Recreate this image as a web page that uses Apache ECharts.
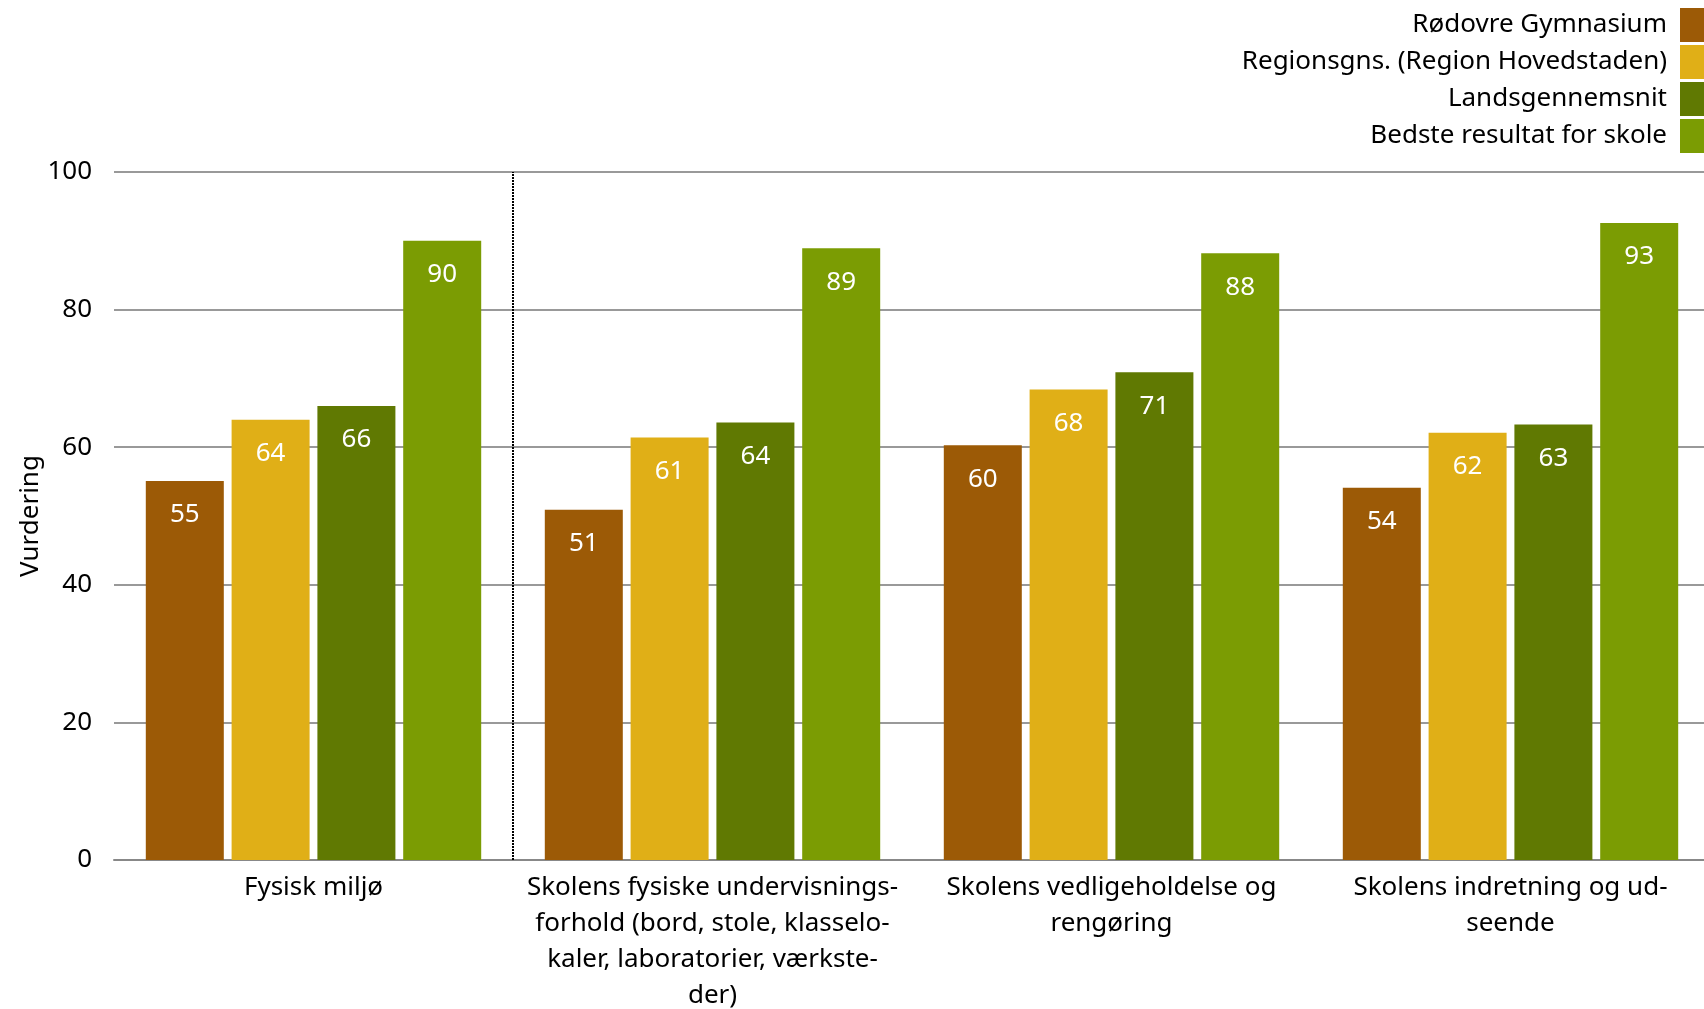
<!DOCTYPE html>
<html>
<head>
<meta charset="utf-8">
<script src="https://cdn.jsdelivr.net/npm/echarts@6/dist/echarts.min.js"></script>
<style>html,body{margin:0;padding:0;background:#fff}#c{width:1704px;height:1009px}</style>
</head>
<body>
<div id="c"></div>
<script>
const categories = [
  "Fysisk miljø",
  "Skolens fysiske undervisnings-\nforhold (bord, stole, klasselo-\nkaler, laboratorier, værkste-\nder)",
  "Skolens vedligeholdelse og\nrengøring",
  "Skolens indretning og ud-\nseende"
];
const seriesNames = ["Rødovre Gymnasium", "Regionsgns. (Region Hovedstaden)", "Landsgennemsnit", "Bedste resultat for skole"];
const rodovre = [55.1, 50.9, 60.3, 54.1];
const region = [64.0, 61.4, 68.4, 62.1];
const lands = [66.0, 63.6, 70.9, 63.3];
const bedste = [90.0, 88.9, 88.2, 92.6];
const yTicks = [0, 20, 40, 60, 80, 100];
const dividerAfter = [1];
const colors = ["#9C5A06", "#E0AF17", "#607902", "#7B9C03"];

const FONT = "'Noto Sans', 'Open Sans', sans-serif";
const allData = [rodovre, region, lands, bedste];
const chart = echarts.init(document.getElementById('c'), null, {renderer: 'canvas'});
const barSeries = allData.map((d, i) => ({
  name: seriesNames[i], type: 'bar', data: d,
  barWidth: 78, barGap: '10%',
  itemStyle: {color: colors[i]},
  label: {show: true, position: 'insideTop', distance: 21, color: '#fff', fontSize: 26, fontFamily: FONT,
    formatter: p => Math.round(p.value)}
}));
barSeries.push({
  type: 'line', xAxisIndex: 1, data: [], silent: true,
  markLine: {symbol: 'none', silent: true, label: {show: false},
    lineStyle: {color: '#000', width: 2, type: [2, 1]},
    data: dividerAfter.map(v => ({xAxis: v}))}
});
chart.setOption({
  animation: false,
  textStyle: {fontFamily: FONT},
  grid: {left: 114, right: -6, top: 172, bottom: 149, containLabel: false, outerBoundsMode: 'none'},
  legend: {
    data: seriesNames,
    orient: 'vertical', right: 0, top: 8, align: 'right', padding: 0,
    itemWidth: 24, itemHeight: 34, itemGap: 3, icon: 'rect',
    textStyle: {fontSize: 26, color: '#000', fontFamily: FONT, padding: [0, 8, 0, 0]}
  },
  xAxis: [{
    type: 'category', data: categories,
    axisLine: {show: true, lineStyle: {color: '#888', width: 2}},
    axisTick: {show: false},
    axisLabel: {fontSize: 26, color: '#000', margin: 10, lineHeight: 36, interval: 0, fontFamily: FONT},
    splitLine: {show: false}
  }, {
    type: 'value', min: 0, max: categories.length, show: false
  }],
  yAxis: {
    type: 'value', min: yTicks[0], max: yTicks[yTicks.length - 1], interval: 20,
    name: 'Vurdering', nameLocation: 'middle', nameGap: 70, nameMoveOverlap: false,
    nameTextStyle: {fontSize: 26, color: '#000', fontFamily: FONT},
    axisLine: {show: false}, axisTick: {show: false},
    axisLabel: {fontSize: 26, color: '#000', margin: 22, fontFamily: FONT},
    splitLine: {lineStyle: {color: '#999', width: 2}}
  },
  series: barSeries
});
</script>
</body>
</html>
